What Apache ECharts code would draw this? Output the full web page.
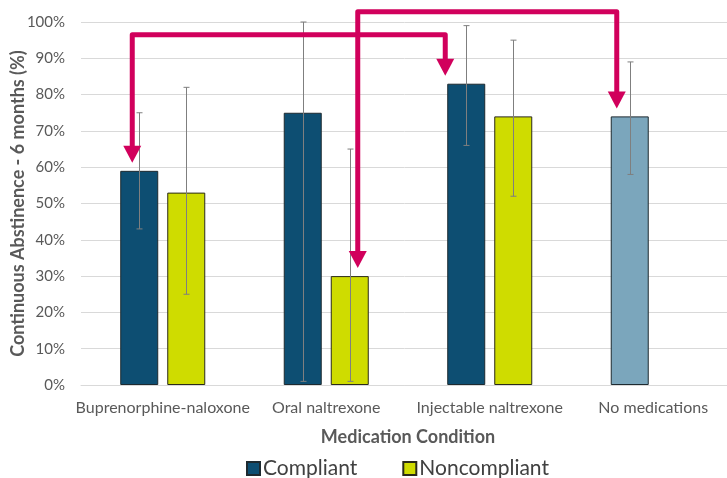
<!DOCTYPE html>
<html>
<head>
<meta charset="utf-8">
<script src="https://cdn.jsdelivr.net/npm/echarts@6/dist/echarts.min.js"></script>
<style>
  html, body { margin: 0; padding: 0; background: #fff; }
  #chart { width: 727px; height: 478px; }
</style>
</head>
<body>
<div id="chart"></div>
<script>
// Six-month continuous abstinence by medication condition
const categories = ['Buprenorphine-naloxone', 'Oral naltrexone', 'Injectable naltrexone', 'No medications'];
const compliant = [59, 75, 83, 74];
const compliantLow = [43, 1, 66, 58];
const compliantHigh = [75, 100, 99, 89];
const noncompliant = [53, 30, 74, null];
const noncompliantLow = [25, 1, 52, null];
const noncompliantHigh = [82, 65, 95, null];
const yTicks = [0, 10, 20, 30, 40, 50, 60, 70, 80, 90, 100];

const FONT = 'Lato, "Open Sans", sans-serif';
const NAVY = '#0d4e72';
const LIME = '#cfdc00';
const STEEL = '#7ba6bc';
const MAGENTA = '#d1005c';
const BAR_W = 38;
const BAR_GAP = 9;
const HALF_STEP = (BAR_W + BAR_GAP) / 2;

const chart = echarts.init(document.getElementById('chart'), null, { renderer: 'canvas' });

function errorSeries(name, lows, highs, offset) {
  const data = lows.map((lo, i) => lo == null ? null : [i, lo, highs[i]]).filter(d => d);
  return {
    type: 'custom',
    name: name,
    z: 5,
    silent: true,
    data: data,
    encode: { x: 0, y: [1, 2] },
    renderItem: function (params, api) {
      const lo = api.coord([api.value(0), api.value(1)]);
      const hi = api.coord([api.value(0), api.value(2)]);
      const x = Math.round(lo[0] + offset) + 0.5;
      const cap = 3;
      const style = { stroke: '#7f7f7f', lineWidth: 1 };
      return {
        type: 'group',
        children: [
          { type: 'line', shape: { x1: x, y1: hi[1], x2: x, y2: lo[1] }, style: style },
          { type: 'line', shape: { x1: x - cap, y1: hi[1], x2: x + cap, y2: hi[1] }, style: style },
          { type: 'line', shape: { x1: x - cap, y1: lo[1], x2: x + cap, y2: lo[1] }, style: style }
        ]
      };
    }
  };
}

const compliantData = compliant.map((v, i) => i === 3
  ? { value: v, itemStyle: { color: STEEL } }
  : v);
const noncompliantData = noncompliant.map(v => v == null ? '-' : v);

chart.setOption({
  animation: false,
  textStyle: { fontFamily: FONT },
  grid: { left: 81, width: 654, top: 22, height: 363, containLabel: false, outerBoundsMode: 'none' },
  legend: {
    data: ['Compliant', 'Noncompliant'],
    top: 453,
    left: 241,
    icon: 'rect',
    itemWidth: 13,
    itemHeight: 13,
    itemGap: 45,
    textStyle: { fontFamily: FONT, fontSize: 21, color: '#404040', padding: [0, 0, 0, -2] }
  },
  xAxis: {
    type: 'category',
    data: categories,
    name: 'Medication Condition',
    nameLocation: 'middle',
    nameGap: 43,
    nameTextStyle: { fontFamily: FONT, fontSize: 18, fontWeight: 'bold', color: '#595959' },
    axisLine: { lineStyle: { color: '#d9d9d9' } },
    axisTick: { show: false },
    axisLabel: { fontFamily: FONT, fontSize: 16, color: '#595959', margin: 15, interval: 0 }
  },
  yAxis: {
    type: 'value',
    min: yTicks[0],
    max: yTicks[yTicks.length - 1],
    interval: 10,
    name: 'Continuous Abstinence - 6 months (%)',
    nameLocation: 'middle',
    nameGap: 54,
    nameMoveOverlap: false,
    nameTextStyle: { fontFamily: FONT, fontSize: 18, fontWeight: 'bold', color: '#595959' },
    axisLine: { show: false },
    axisTick: { show: false },
    splitLine: { lineStyle: { color: '#d9d9d9' } },
    axisLabel: { fontFamily: FONT, fontSize: 15, color: '#595959', margin: 16, formatter: '{value}%' }
  },
  series: [
    {
      name: 'Compliant',
      type: 'bar',
      data: compliantData,
      barWidth: BAR_W,
      barGap: (BAR_GAP / BAR_W * 100).toFixed(1) + '%',
      itemStyle: { color: NAVY, borderColor: '#1e2a30', borderWidth: 1 }
    },
    {
      name: 'Noncompliant',
      type: 'bar',
      data: noncompliantData,
      barWidth: BAR_W,
      itemStyle: { color: LIME, borderColor: '#2a2a1a', borderWidth: 1 }
    },
    errorSeries('Compliant range', compliantLow, compliantHigh, -HALF_STEP),
    errorSeries('Noncompliant range', noncompliantLow, noncompliantHigh, HALF_STEP)
  ]
});

// Comparison arrows linking bar pairs
function px(catIndex, value, dx) {
  const p = chart.convertToPixel({ gridIndex: 0 }, [catIndex, value]);
  return [p[0] + dx, p[1]];
}

function arrow(from, to, railValue) {
  // from / to: [catIndex, value, dx]
  const gap = 8, headH = 17, headW = 9;
  const a = px(from[0], from[1], from[2]);
  const b = px(to[0], to[1], to[2]);
  const railY = chart.convertToPixel({ gridIndex: 0 }, [0, railValue])[1];
  const aTip = a[1] - gap, bTip = b[1] - gap;
  const shaft = {
    type: 'polyline',
    z: 100,
    shape: { points: [[a[0], aTip - headH + 1], [a[0], railY], [b[0], railY], [b[0], bTip - headH + 1]] },
    style: { stroke: MAGENTA, lineWidth: 5, fill: null, lineJoin: 'round', lineCap: 'butt' }
  };
  const head = (x, tipY) => ({
    type: 'polygon',
    z: 100,
    shape: { points: [[x - headW, tipY - headH], [x + headW, tipY - headH], [x, tipY]] },
    style: { fill: MAGENTA }
  });
  return [shaft, head(a[0], aTip), head(b[0], bTip)];
}

chart.setOption({
  graphic: [
    ...arrow([0, compliant[0], -HALF_STEP - 7], [2, compliant[2], -HALF_STEP - 21], 96.5),
    ...arrow([1, noncompliant[1], HALF_STEP + 8], [3, compliant[3], -HALF_STEP - 13], 102.8)
  ]
});
</script>
</body>
</html>
